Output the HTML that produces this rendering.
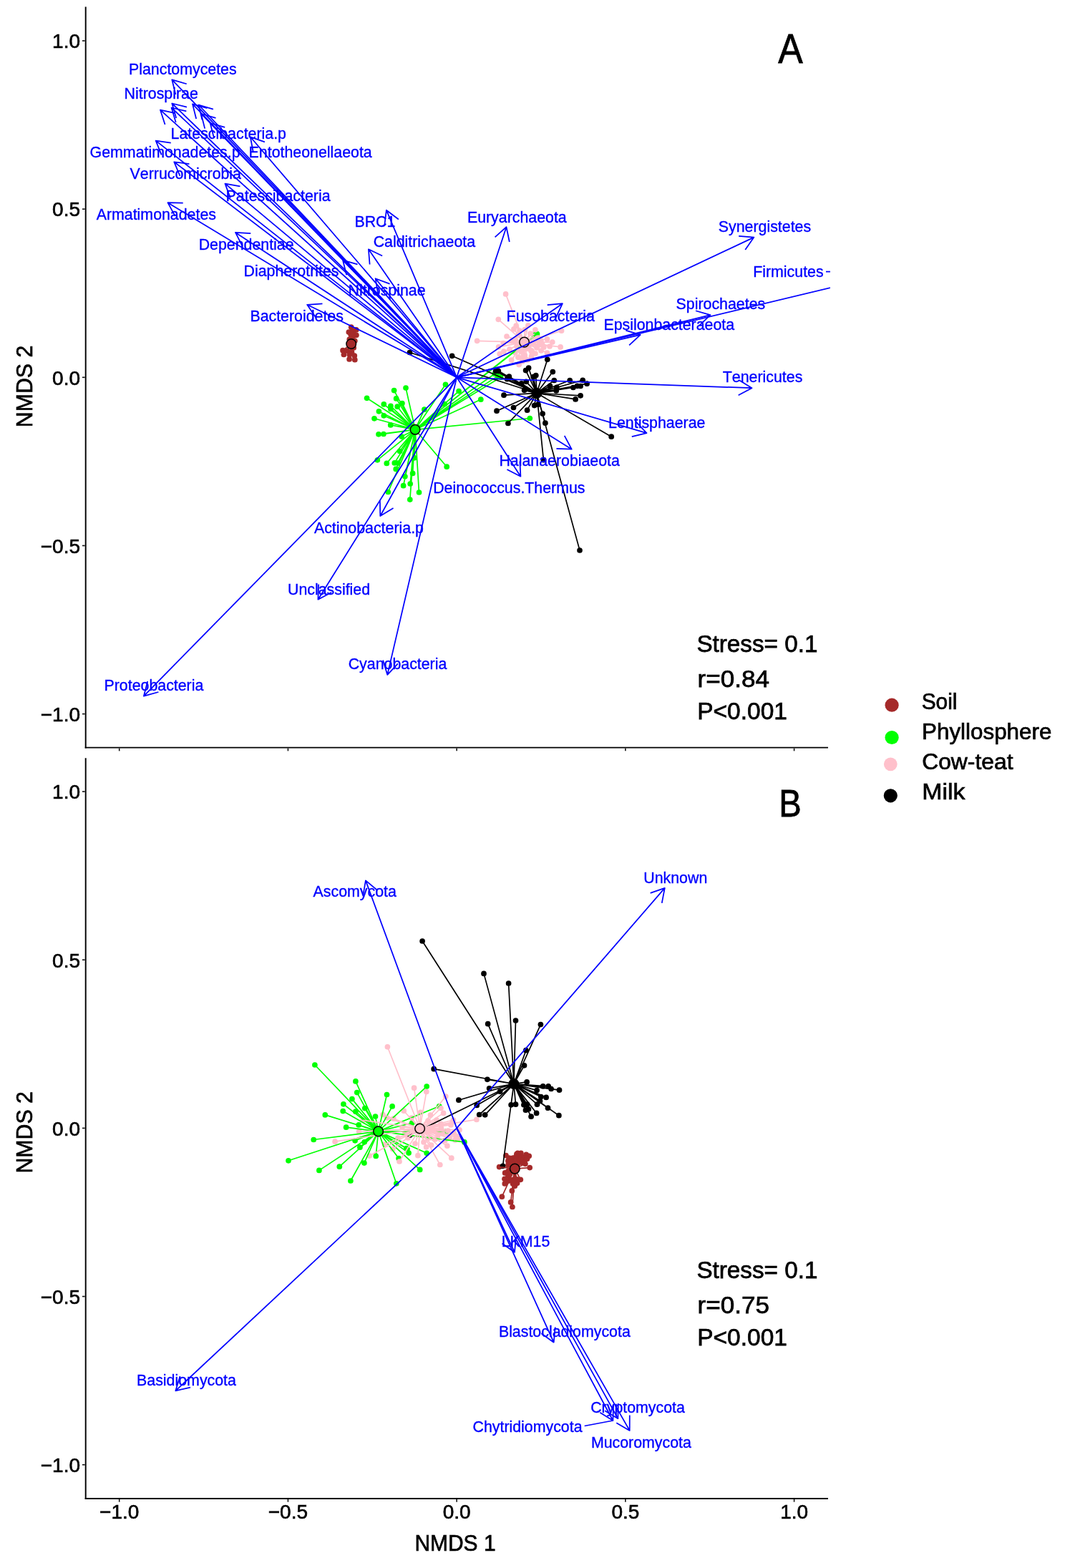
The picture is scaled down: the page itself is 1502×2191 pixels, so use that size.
<!DOCTYPE html>
<html lang="en"><head><meta charset="utf-8"><title>NMDS ordination</title>
<style>
html,body{margin:0;padding:0;background:#fff}
body{width:1502px;height:2191px;overflow:hidden}
svg{display:block}
text{font-family:"Liberation Sans",sans-serif;font-kerning:none}
</style></head><body>
<svg width="1502" height="2191" viewBox="0 0 1502 2191">
<defs>
<clipPath id="ca"><rect x="119.7" y="0" width="1040.3" height="1044.6"/></clipPath>
<clipPath id="cb"><rect x="119.7" y="1054.2" width="1040.3" height="1039.7"/></clipPath>
</defs>
<rect width="1502" height="2191" fill="#fff"/>
<g clip-path="url(#ca)">
<g fill="#a52a2a"><circle cx="490.7" cy="457.2" r="3.85"/><circle cx="497.7" cy="460.9" r="3.85"/><circle cx="487.3" cy="464.1" r="3.85"/><circle cx="493.7" cy="464.6" r="3.85"/><circle cx="497.9" cy="468.3" r="3.85"/><circle cx="491.5" cy="470.5" r="3.85"/><circle cx="488.3" cy="474.2" r="3.85"/><circle cx="495.8" cy="476.3" r="3.85"/><circle cx="494.2" cy="485.9" r="3.85"/><circle cx="479" cy="489.7" r="3.85"/><circle cx="485.2" cy="490.2" r="3.85"/><circle cx="480.4" cy="495.5" r="3.85"/><circle cx="488.3" cy="495.5" r="3.85"/><circle cx="495.3" cy="497.1" r="3.85"/><circle cx="488.1" cy="501.9" r="3.85"/><circle cx="495.8" cy="502.7" r="3.85"/><circle cx="491.5" cy="492" r="3.85"/><circle cx="492.5" cy="462.5" r="3.85"/><circle cx="490" cy="467" r="3.85"/></g>
<g fill="#00ff00"><circle cx="512.6" cy="556.3" r="3.85"/><circle cx="550.6" cy="545.6" r="3.85"/><circle cx="567" cy="542" r="3.85"/><circle cx="553.6" cy="556.9" r="3.85"/><circle cx="561.9" cy="563.5" r="3.85"/><circle cx="536.3" cy="564.9" r="3.85"/><circle cx="545.9" cy="567.3" r="3.85"/><circle cx="555.2" cy="568.2" r="3.85"/><circle cx="545.9" cy="571.5" r="3.85"/><circle cx="529.4" cy="574.8" r="3.85"/><circle cx="536.3" cy="580.8" r="3.85"/><circle cx="523" cy="584.8" r="3.85"/><circle cx="545.7" cy="593.9" r="3.85"/><circle cx="529" cy="606.8" r="3.85"/><circle cx="535.9" cy="606.5" r="3.85"/><circle cx="592.9" cy="572.2" r="3.85"/><circle cx="622.5" cy="537.3" r="3.85"/><circle cx="641.1" cy="546.6" r="3.85"/><circle cx="671.8" cy="558.2" r="3.85"/><circle cx="621.2" cy="564.6" r="3.85"/><circle cx="561.2" cy="610.1" r="3.85"/><circle cx="527.3" cy="642.8" r="3.85"/><circle cx="540.3" cy="647.4" r="3.85"/><circle cx="551.3" cy="646.9" r="3.85"/><circle cx="555.9" cy="647.1" r="3.85"/><circle cx="553.2" cy="655.4" r="3.85"/><circle cx="558.6" cy="630.5" r="3.85"/><circle cx="565.9" cy="665.8" r="3.85"/><circle cx="576.6" cy="661.4" r="3.85"/><circle cx="563.6" cy="678.7" r="3.85"/><circle cx="573.2" cy="676" r="3.85"/><circle cx="542.3" cy="687.5" r="3.85"/><circle cx="585.5" cy="688" r="3.85"/><circle cx="572.8" cy="698.1" r="3.85"/><circle cx="624.2" cy="652.2" r="3.85"/><circle cx="579.2" cy="639.8" r="3.85"/><circle cx="740.3" cy="584.5" r="3.85"/><circle cx="750.5" cy="466.6" r="3.85"/><circle cx="748.5" cy="467.2" r="3.85"/><circle cx="695.6" cy="525.4" r="3.85"/><circle cx="699.5" cy="527.2" r="3.85"/><circle cx="691" cy="522.5" r="3.85"/></g>
<g fill="#ffc0cb"><circle cx="706.6" cy="410.9" r="3.85"/><circle cx="696.3" cy="446.3" r="3.85"/><circle cx="666.6" cy="476.3" r="3.85"/><circle cx="721.2" cy="455.2" r="3.85"/><circle cx="717.9" cy="459.9" r="3.85"/><circle cx="737.9" cy="454.8" r="3.85"/><circle cx="747.9" cy="460.8" r="3.85"/><circle cx="733.2" cy="460.6" r="3.85"/><circle cx="784.5" cy="462.2" r="3.85"/><circle cx="764.5" cy="473.9" r="3.85"/><circle cx="771.8" cy="478.1" r="3.85"/><circle cx="783.1" cy="484.9" r="3.85"/><circle cx="759.8" cy="485.2" r="3.85"/><circle cx="764.5" cy="493.2" r="3.85"/><circle cx="696.6" cy="484.8" r="3.85"/><circle cx="698.2" cy="494.5" r="3.85"/><circle cx="714.6" cy="503.2" r="3.85"/><circle cx="725.2" cy="509.6" r="3.85"/><circle cx="723.9" cy="499.2" r="3.85"/><circle cx="733.2" cy="496.5" r="3.85"/><circle cx="742.5" cy="489.9" r="3.85"/><circle cx="742.5" cy="497.9" r="3.85"/><circle cx="714.6" cy="476.6" r="3.85"/><circle cx="703.9" cy="491.2" r="3.85"/><circle cx="753.2" cy="481.9" r="3.85"/><circle cx="727.9" cy="491.2" r="3.85"/><circle cx="719.9" cy="492.5" r="3.85"/><circle cx="703.2" cy="479.5" r="3.85"/><circle cx="731.1" cy="498.7" r="3.85"/><circle cx="735.1" cy="487.5" r="3.85"/><circle cx="743.1" cy="490.7" r="3.85"/><circle cx="752" cy="472" r="3.85"/><circle cx="756" cy="476" r="3.85"/><circle cx="750" cy="486" r="3.85"/><circle cx="746" cy="470" r="3.85"/><circle cx="741" cy="466" r="3.85"/><circle cx="724" cy="468" r="3.85"/><circle cx="720" cy="474" r="3.85"/><circle cx="722" cy="484" r="3.85"/><circle cx="712" cy="488" r="3.85"/><circle cx="708" cy="470" r="3.85"/><circle cx="739" cy="484" r="3.85"/><circle cx="745" cy="480" r="3.85"/><circle cx="758" cy="482" r="3.85"/><circle cx="768" cy="484" r="3.85"/><circle cx="726" cy="462" r="3.85"/><circle cx="730" cy="505" r="3.85"/><circle cx="737" cy="503" r="3.85"/><circle cx="748" cy="494" r="3.85"/><circle cx="756" cy="490" r="3.85"/></g>
<g fill="#000000"><circle cx="764.8" cy="502.3" r="3.85"/><circle cx="738.6" cy="514" r="3.85"/><circle cx="734.6" cy="517.6" r="3.85"/><circle cx="772.3" cy="519.6" r="3.85"/><circle cx="696.3" cy="518.3" r="3.85"/><circle cx="692.6" cy="518.6" r="3.85"/><circle cx="748.8" cy="524.6" r="3.85"/><circle cx="745.2" cy="526.6" r="3.85"/><circle cx="711.3" cy="526.2" r="3.85"/><circle cx="708.6" cy="529.7" r="3.85"/><circle cx="774.3" cy="531.5" r="3.85"/><circle cx="796.2" cy="531.5" r="3.85"/><circle cx="814.2" cy="531.3" r="3.85"/><circle cx="820.1" cy="536.2" r="3.85"/><circle cx="811.1" cy="539.5" r="3.85"/><circle cx="806.5" cy="539.3" r="3.85"/><circle cx="800.9" cy="541.5" r="3.85"/><circle cx="728.6" cy="535.9" r="3.85"/><circle cx="735.2" cy="533.3" r="3.85"/><circle cx="768.5" cy="539.3" r="3.85"/><circle cx="777.9" cy="541.3" r="3.85"/><circle cx="777.2" cy="545.9" r="3.85"/><circle cx="732.6" cy="545.3" r="3.85"/><circle cx="704" cy="552.2" r="3.85"/><circle cx="811.1" cy="552.8" r="3.85"/><circle cx="804.1" cy="557.9" r="3.85"/><circle cx="694" cy="574.2" r="3.85"/><circle cx="717.5" cy="569.5" r="3.85"/><circle cx="736.6" cy="573.2" r="3.85"/><circle cx="746.6" cy="566.6" r="3.85"/><circle cx="751.9" cy="565.2" r="3.85"/><circle cx="758.1" cy="578.1" r="3.85"/><circle cx="761.9" cy="591.2" r="3.85"/><circle cx="709.9" cy="591.5" r="3.85"/><circle cx="854.2" cy="610.2" r="3.85"/><circle cx="759.4" cy="642.7" r="3.85"/><circle cx="810" cy="769" r="3.85"/><circle cx="572.5" cy="492.5" r="3.85"/><circle cx="631.6" cy="497.3" r="3.85"/></g>
<g stroke="#a52a2a" stroke-width="1.7" fill="none"><path d="M490.7 480.5L490.7 457.2M490.7 480.5L497.7 460.9M490.7 480.5L487.3 464.1M490.7 480.5L493.7 464.6M490.7 480.5L497.9 468.3M490.7 480.5L491.5 470.5M490.7 480.5L488.3 474.2M490.7 480.5L495.8 476.3M490.7 480.5L494.2 485.9M490.7 480.5L479 489.7M490.7 480.5L485.2 490.2M490.7 480.5L480.4 495.5M490.7 480.5L488.3 495.5M490.7 480.5L495.3 497.1M490.7 480.5L488.1 501.9M490.7 480.5L495.8 502.7M490.7 480.5L491.5 492M490.7 480.5L492.5 462.5M490.7 480.5L490 467"/></g>
<g stroke="#00ff00" stroke-width="1.7" fill="none"><path d="M580.1 600.3L512.6 556.3M580.1 600.3L550.6 545.6M580.1 600.3L567 542M580.1 600.3L553.6 556.9M580.1 600.3L561.9 563.5M580.1 600.3L536.3 564.9M580.1 600.3L545.9 567.3M580.1 600.3L555.2 568.2M580.1 600.3L545.9 571.5M580.1 600.3L529.4 574.8M580.1 600.3L536.3 580.8M580.1 600.3L523 584.8M580.1 600.3L545.7 593.9M580.1 600.3L529 606.8M580.1 600.3L535.9 606.5M580.1 600.3L592.9 572.2M580.1 600.3L622.5 537.3M580.1 600.3L641.1 546.6M580.1 600.3L671.8 558.2M580.1 600.3L621.2 564.6M580.1 600.3L561.2 610.1M580.1 600.3L527.3 642.8M580.1 600.3L540.3 647.4M580.1 600.3L551.3 646.9M580.1 600.3L555.9 647.1M580.1 600.3L553.2 655.4M580.1 600.3L558.6 630.5M580.1 600.3L565.9 665.8M580.1 600.3L576.6 661.4M580.1 600.3L563.6 678.7M580.1 600.3L573.2 676M580.1 600.3L542.3 687.5M580.1 600.3L585.5 688M580.1 600.3L572.8 698.1M580.1 600.3L624.2 652.2M580.1 600.3L579.2 639.8M580.1 600.3L740.3 584.5M580.1 600.3L750.5 466.6M580.1 600.3L748.5 467.2M580.1 600.3L695.6 525.4M580.1 600.3L699.5 527.2M580.1 600.3L691 522.5"/></g>
<g stroke="#000000" stroke-width="1.7" fill="none"><path d="M749.9 549.3L764.8 502.3M749.9 549.3L738.6 514M749.9 549.3L734.6 517.6M749.9 549.3L772.3 519.6M749.9 549.3L696.3 518.3M749.9 549.3L692.6 518.6M749.9 549.3L748.8 524.6M749.9 549.3L745.2 526.6M749.9 549.3L711.3 526.2M749.9 549.3L708.6 529.7M749.9 549.3L774.3 531.5M749.9 549.3L796.2 531.5M749.9 549.3L814.2 531.3M749.9 549.3L820.1 536.2M749.9 549.3L811.1 539.5M749.9 549.3L806.5 539.3M749.9 549.3L800.9 541.5M749.9 549.3L728.6 535.9M749.9 549.3L735.2 533.3M749.9 549.3L768.5 539.3M749.9 549.3L777.9 541.3M749.9 549.3L777.2 545.9M749.9 549.3L732.6 545.3M749.9 549.3L704 552.2M749.9 549.3L811.1 552.8M749.9 549.3L804.1 557.9M749.9 549.3L694 574.2M749.9 549.3L717.5 569.5M749.9 549.3L736.6 573.2M749.9 549.3L746.6 566.6M749.9 549.3L751.9 565.2M749.9 549.3L758.1 578.1M749.9 549.3L761.9 591.2M749.9 549.3L709.9 591.5M749.9 549.3L854.2 610.2M749.9 549.3L759.4 642.7M749.9 549.3L810 769M749.9 549.3L572.5 492.5M749.9 549.3L631.6 497.3"/></g>
<g stroke="#ffc0cb" stroke-width="1.7" fill="none"><path d="M732.5 478.1L706.6 410.9M732.5 478.1L696.3 446.3M732.5 478.1L666.6 476.3M732.5 478.1L721.2 455.2M732.5 478.1L717.9 459.9M732.5 478.1L737.9 454.8M732.5 478.1L747.9 460.8M732.5 478.1L733.2 460.6M732.5 478.1L784.5 462.2M732.5 478.1L764.5 473.9M732.5 478.1L771.8 478.1M732.5 478.1L783.1 484.9M732.5 478.1L759.8 485.2M732.5 478.1L764.5 493.2M732.5 478.1L696.6 484.8M732.5 478.1L698.2 494.5M732.5 478.1L714.6 503.2M732.5 478.1L725.2 509.6M732.5 478.1L723.9 499.2M732.5 478.1L733.2 496.5M732.5 478.1L742.5 489.9M732.5 478.1L742.5 497.9M732.5 478.1L714.6 476.6M732.5 478.1L703.9 491.2M732.5 478.1L753.2 481.9M732.5 478.1L727.9 491.2M732.5 478.1L719.9 492.5M732.5 478.1L703.2 479.5M732.5 478.1L731.1 498.7M732.5 478.1L735.1 487.5M732.5 478.1L743.1 490.7M732.5 478.1L752 472M732.5 478.1L756 476M732.5 478.1L750 486M732.5 478.1L746 470M732.5 478.1L741 466M732.5 478.1L724 468M732.5 478.1L720 474M732.5 478.1L722 484M732.5 478.1L712 488M732.5 478.1L708 470M732.5 478.1L739 484M732.5 478.1L745 480M732.5 478.1L758 482M732.5 478.1L768 484M732.5 478.1L726 462M732.5 478.1L730 505M732.5 478.1L737 503M732.5 478.1L748 494M732.5 478.1L756 490"/></g>
<circle cx="490.7" cy="480.5" r="6.8" fill="#a52a2a" stroke="#000" stroke-width="1.5"/>
<circle cx="580.1" cy="600.3" r="6.8" fill="#00ff00" stroke="#000" stroke-width="1.5"/>
<circle cx="749.9" cy="549.3" r="6.8" fill="#000000" stroke="#000" stroke-width="1.5"/>
<circle cx="732.5" cy="478.1" r="6.8" fill="#ffc0cb" stroke="#000" stroke-width="1.5"/>
<g stroke="#0000ff" stroke-width="1.75" fill="none" stroke-linejoin="round" stroke-linecap="butt">
<path d="M638.15 527.3L240.3 111.3M245.35 131.99L240.3 111.3L260.75 117.27"/>
<path d="M638.15 527.3L240.3 144.5M246.21 164.96L240.3 144.5L260.98 149.62"/>
<path d="M638.15 527.3L239.6 150.5M245.69 170.91L239.6 150.5L260.32 155.43"/>
<path d="M638.15 527.3L224 153.7M230.56 173.96L224 153.7L244.83 158.15"/>
<path d="M638.15 527.3L269 145.4M274.16 166.06L269 145.4L289.48 151.26"/>
<path d="M638.15 527.3L277.5 146.5M282.45 167.22L277.5 146.5L297.92 152.57"/>
<path d="M638.15 527.3L281 159M286.2 179.66L281 159L301.49 164.83"/>
<path d="M638.15 527.3L293.7 172M298.89 192.66L293.7 172L314.19 177.83"/>
<path d="M638.15 527.3L349.8 191.3M353.73 212.23L349.8 191.3L369.9 198.36"/>
<path d="M638.15 527.3L217.7 196.6M225.61 216.37L217.7 196.6L238.78 199.63"/>
<path d="M638.15 527.3L243.3 226.3M251.51 245.95L243.3 226.3L264.43 229.01"/>
<path d="M638.15 527.3L314.5 256.6M321.82 276.6L314.5 256.6L335.48 260.27"/>
<path d="M638.15 527.3L234.4 283.2M244.68 301.86L234.4 283.2L255.7 283.63"/>
<path d="M638.15 527.3L329 324.9M338.6 343.91L329 324.9L350.27 326.09"/>
<path d="M638.15 527.3L479 363.6M484.22 384.25L479 363.6L499.49 369.4"/>
<path d="M638.15 527.3L429.2 425.8M441.14 443.44L429.2 425.8L450.45 424.28"/>
<path d="M638.15 527.3L539.9 293.7M537.23 314.83L539.9 293.7L556.87 306.57"/>
<path d="M638.15 527.3L514.9 348.3M516.59 369.53L514.9 348.3L534.13 357.45"/>
<path d="M638.15 527.3L524.6 389.2M528.09 410.21L524.6 389.2L544.54 396.68"/>
<path d="M638.15 527.3L707.5 317.2M691.6 331.38L707.5 317.2L711.83 338.05"/>
<path d="M638.15 527.3L1053.4 331.6M1032.17 329.83L1053.4 331.6L1041.25 349.1"/>
<path d="M638.15 527.3L1240 382.9M1219.58 376.85L1240 382.9L1224.55 397.56"/>
<path d="M638.15 527.3L992.5 440.2M972.04 434.26L992.5 440.2L977.13 454.95"/>
<path d="M638.15 527.3L894.7 467.9M874.33 461.69L894.7 467.9L879.13 482.44"/>
<path d="M638.15 527.3L785.9 424.2M764.68 426.02L785.9 424.2L776.87 443.49"/>
<path d="M638.15 527.3L1050.5 542.2M1032.45 530.89L1050.5 542.2L1031.68 552.18"/>
<path d="M638.15 527.3L903.5 605.1M888.8 589.69L903.5 605.1L882.8 610.13"/>
<path d="M638.15 527.3L798.7 627.7M788.71 608.89L798.7 627.7L777.41 626.95"/>
<path d="M638.15 527.3L727.4 665.7M726.35 644.43L727.4 665.7L708.45 655.97"/>
<path d="M638.15 527.3L531.3 721M549.54 709.99L531.3 721L530.88 699.7"/>
<path d="M638.15 527.3L444.4 837.7M463.2 827.69L444.4 837.7L445.13 816.41"/>
<path d="M638.15 527.3L541.3 942.9M555.86 927.35L541.3 942.9L535.11 922.52"/>
<path d="M638.15 527.3L200.9 972.7M221.42 967L200.9 972.7L206.22 952.08"/>
<path d="M1154 379.6L1160 379.6"/>
</g>
<g fill="#0000ff" stroke="#0000ff" stroke-width="0.35" font-size="21.35px" class="lb">
<text x="180" y="104.4">Planctomycetes</text>
<text x="173.6" y="137.9">Nitrospirae</text>
<text x="238.6" y="193.9">Latescibacteria.p</text>
<text x="125.6" y="219.9">Gemmatimonadetes.p</text>
<text x="347.6" y="219.9">Entotheonellaeota</text>
<text x="181.6" y="249.9">Verrucomicrobia</text>
<text x="315.6" y="280.9">Patescibacteria</text>
<text x="134.7" y="306.7">Armatimonadetes</text>
<text x="277.7" y="348.6">Dependentiae</text>
<text x="340.6" y="385.7">Diapherotrites</text>
<text x="349.4" y="449">Bacteroidetes</text>
<text x="495.4" y="317">BRC1</text>
<text x="521.7" y="344.5">Calditrichaeota</text>
<text x="486.6" y="412.5">Nitrospinae</text>
<text x="652.9" y="310.7">Euryarchaeota</text>
<text x="1003.8" y="323.7">Synergistetes</text>
<text x="1052.2" y="386.9">Firmicutes</text>
<text x="944.6" y="432.4">Spirochaetes</text>
<text x="843.4" y="461">Epsilonbacteraeota</text>
<text x="707.6" y="448.5">Fusobacteria</text>
<text x="1009.8" y="534.3">Tenericutes</text>
<text x="850.1" y="597.8">Lentisphaerae</text>
<text x="697.4" y="651">Halanaerobiaeota</text>
<text x="605.2" y="688.6">Deinococcus.Thermus</text>
<text x="438.9" y="745.2">Actinobacteria.p</text>
<text x="402" y="831">Unclassified</text>
<text x="486.7" y="935.4">Cyanobacteria</text>
<text x="145.5" y="965.2">Proteobacteria</text>
</g>
</g>
<g clip-path="url(#cb)">
<g fill="#a52a2a"><circle cx="707" cy="1614.6" r="3.85"/><circle cx="723.3" cy="1611.3" r="3.85"/><circle cx="727.9" cy="1611.3" r="3.85"/><circle cx="735.2" cy="1613.3" r="3.85"/><circle cx="739.2" cy="1615.3" r="3.85"/><circle cx="716.6" cy="1618" r="3.85"/><circle cx="729.9" cy="1618" r="3.85"/><circle cx="733.9" cy="1626.3" r="3.85"/><circle cx="740.2" cy="1631.6" r="3.85"/><circle cx="709.9" cy="1627.9" r="3.85"/><circle cx="697.6" cy="1630.6" r="3.85"/><circle cx="705.6" cy="1638.9" r="3.85"/><circle cx="705" cy="1647.3" r="3.85"/><circle cx="705.3" cy="1653.9" r="3.85"/><circle cx="727.3" cy="1648.3" r="3.85"/><circle cx="722.6" cy="1653.2" r="3.85"/><circle cx="716.6" cy="1653.9" r="3.85"/><circle cx="719.3" cy="1657.2" r="3.85"/><circle cx="715.3" cy="1663.9" r="3.85"/><circle cx="701.3" cy="1672.2" r="3.85"/><circle cx="713.6" cy="1679.9" r="3.85"/><circle cx="715.9" cy="1686.5" r="3.85"/><circle cx="711.3" cy="1618" r="3.85"/><circle cx="713.9" cy="1619.3" r="3.85"/><circle cx="720.6" cy="1616.6" r="3.85"/><circle cx="725.9" cy="1616.6" r="3.85"/><circle cx="731.9" cy="1616.6" r="3.85"/><circle cx="728.6" cy="1621.3" r="3.85"/><circle cx="724.6" cy="1621.3" r="3.85"/><circle cx="733.2" cy="1621.3" r="3.85"/><circle cx="716.6" cy="1623.3" r="3.85"/><circle cx="729.9" cy="1624.6" r="3.85"/><circle cx="709.9" cy="1622" r="3.85"/><circle cx="712.6" cy="1626" r="3.85"/><circle cx="736.6" cy="1619.3" r="3.85"/><circle cx="721.9" cy="1612.6" r="3.85"/><circle cx="709.9" cy="1643.3" r="3.85"/><circle cx="711.3" cy="1649.9" r="3.85"/><circle cx="716.6" cy="1648.6" r="3.85"/><circle cx="721.9" cy="1647.9" r="3.85"/><circle cx="720.6" cy="1653.9" r="3.85"/><circle cx="709.9" cy="1636.6" r="3.85"/></g>
<g fill="#00ff00"><circle cx="439.9" cy="1488" r="3.85"/><circle cx="496.9" cy="1510.9" r="3.85"/><circle cx="498.8" cy="1526.6" r="3.85"/><circle cx="491.9" cy="1535.6" r="3.85"/><circle cx="479.9" cy="1542.8" r="3.85"/><circle cx="540.5" cy="1529.5" r="3.85"/><circle cx="548.1" cy="1545.9" r="3.85"/><circle cx="509.8" cy="1548.6" r="3.85"/><circle cx="479.2" cy="1552.6" r="3.85"/><circle cx="496.9" cy="1553.2" r="3.85"/><circle cx="454.3" cy="1557.9" r="3.85"/><circle cx="524.5" cy="1560.1" r="3.85"/><circle cx="501.2" cy="1571.9" r="3.85"/><circle cx="483.6" cy="1575.2" r="3.85"/><circle cx="438.2" cy="1592.5" r="3.85"/><circle cx="496.1" cy="1593.8" r="3.85"/><circle cx="509.2" cy="1595.8" r="3.85"/><circle cx="502.9" cy="1603.2" r="3.85"/><circle cx="403" cy="1621.8" r="3.85"/><circle cx="525.2" cy="1615.4" r="3.85"/><circle cx="508.9" cy="1625.1" r="3.85"/><circle cx="474.3" cy="1630.2" r="3.85"/><circle cx="445.9" cy="1635.4" r="3.85"/><circle cx="489.9" cy="1650" r="3.85"/><circle cx="553.8" cy="1653.8" r="3.85"/><circle cx="557.1" cy="1618.5" r="3.85"/><circle cx="571.1" cy="1611.1" r="3.85"/><circle cx="567.8" cy="1604.5" r="3.85"/><circle cx="586.7" cy="1634.4" r="3.85"/><circle cx="575.7" cy="1569.2" r="3.85"/><circle cx="596.2" cy="1518.1" r="3.85"/><circle cx="613.7" cy="1545.8" r="3.85"/><circle cx="623.3" cy="1581.2" r="3.85"/><circle cx="648.9" cy="1595.9" r="3.85"/><circle cx="596.2" cy="1611.3" r="3.85"/><circle cx="569" cy="1605.5" r="3.85"/></g>
<g fill="#ffc0cb"><circle cx="578.6" cy="1520.2" r="3.85"/><circle cx="595.8" cy="1525.6" r="3.85"/><circle cx="622.8" cy="1532" r="3.85"/><circle cx="615.9" cy="1548.5" r="3.85"/><circle cx="619.6" cy="1555.4" r="3.85"/><circle cx="564.2" cy="1552.2" r="3.85"/><circle cx="534.9" cy="1557.5" r="3.85"/><circle cx="587.6" cy="1554.3" r="3.85"/><circle cx="601.5" cy="1558.1" r="3.85"/><circle cx="665.9" cy="1564.4" r="3.85"/><circle cx="633.4" cy="1565" r="3.85"/><circle cx="615.9" cy="1570.3" r="3.85"/><circle cx="616.4" cy="1576.2" r="3.85"/><circle cx="642" cy="1578.8" r="3.85"/><circle cx="637.2" cy="1587.3" r="3.85"/><circle cx="640.4" cy="1590.5" r="3.85"/><circle cx="621.7" cy="1593.7" r="3.85"/><circle cx="624.9" cy="1601.2" r="3.85"/><circle cx="602.6" cy="1600.1" r="3.85"/><circle cx="595.6" cy="1602.8" r="3.85"/><circle cx="630.8" cy="1618.2" r="3.85"/><circle cx="614.8" cy="1627.5" r="3.85"/><circle cx="583.9" cy="1614.7" r="3.85"/><circle cx="558" cy="1623" r="3.85"/><circle cx="548.8" cy="1605.5" r="3.85"/><circle cx="537.6" cy="1599.1" r="3.85"/><circle cx="541.4" cy="1462.8" r="3.85"/><circle cx="516.2" cy="1615.1" r="3.85"/><circle cx="468.1" cy="1595.2" r="3.85"/><circle cx="501.6" cy="1581.2" r="3.85"/><circle cx="540.5" cy="1561.9" r="3.85"/><circle cx="549.8" cy="1563.2" r="3.85"/><circle cx="507.3" cy="1565.3" r="3.85"/><circle cx="630" cy="1572" r="3.85"/><circle cx="634" cy="1583" r="3.85"/><circle cx="628" cy="1590" r="3.85"/><circle cx="636" cy="1593" r="3.85"/><circle cx="632" cy="1568" r="3.85"/><circle cx="610" cy="1565" r="3.85"/><circle cx="612" cy="1586" r="3.85"/><circle cx="626" cy="1580" r="3.85"/><circle cx="606" cy="1572" r="3.85"/><circle cx="608" cy="1592" r="3.85"/><circle cx="618" cy="1584" r="3.85"/><circle cx="600" cy="1590" r="3.85"/><circle cx="598" cy="1566" r="3.85"/><circle cx="592" cy="1596" r="3.85"/><circle cx="580" cy="1598" r="3.85"/><circle cx="570" cy="1590" r="3.85"/><circle cx="562" cy="1575" r="3.85"/><circle cx="566" cy="1583" r="3.85"/><circle cx="556" cy="1590" r="3.85"/><circle cx="575" cy="1562" r="3.85"/></g>
<g fill="#000000"><circle cx="681.7" cy="1430.7" r="3.85"/><circle cx="720.5" cy="1426" r="3.85"/><circle cx="755.4" cy="1431.6" r="3.85"/><circle cx="734.9" cy="1467.7" r="3.85"/><circle cx="732.5" cy="1488.8" r="3.85"/><circle cx="680.9" cy="1508.3" r="3.85"/><circle cx="736.1" cy="1511.9" r="3.85"/><circle cx="758.7" cy="1517.9" r="3.85"/><circle cx="766.2" cy="1517.9" r="3.85"/><circle cx="770.1" cy="1521.5" r="3.85"/><circle cx="781.5" cy="1523.2" r="3.85"/><circle cx="750.1" cy="1523.6" r="3.85"/><circle cx="683.6" cy="1520.8" r="3.85"/><circle cx="698.6" cy="1525.2" r="3.85"/><circle cx="755.8" cy="1532.5" r="3.85"/><circle cx="763.1" cy="1533.4" r="3.85"/><circle cx="754.5" cy="1538.5" r="3.85"/><circle cx="750.5" cy="1543.2" r="3.85"/><circle cx="640.9" cy="1537.2" r="3.85"/><circle cx="666.2" cy="1544.5" r="3.85"/><circle cx="714.1" cy="1543.8" r="3.85"/><circle cx="720.5" cy="1543.2" r="3.85"/><circle cx="731.9" cy="1543.8" r="3.85"/><circle cx="736.5" cy="1543.2" r="3.85"/><circle cx="734.5" cy="1551.2" r="3.85"/><circle cx="738.5" cy="1549.8" r="3.85"/><circle cx="765.5" cy="1548.2" r="3.85"/><circle cx="749.6" cy="1555.4" r="3.85"/><circle cx="742.1" cy="1560.2" r="3.85"/><circle cx="780.9" cy="1558.7" r="3.85"/><circle cx="669.7" cy="1557.5" r="3.85"/><circle cx="677.7" cy="1557.8" r="3.85"/><circle cx="590.1" cy="1315" r="3.85"/><circle cx="676" cy="1360.4" r="3.85"/><circle cx="710.6" cy="1374" r="3.85"/><circle cx="606.2" cy="1493.7" r="3.85"/><circle cx="702.5" cy="1629.3" r="3.85"/><circle cx="573" cy="1586" r="3.85"/></g>
<g stroke="#a52a2a" stroke-width="1.7" fill="none"><path d="M719.3 1633.1L707 1614.6M719.3 1633.1L723.3 1611.3M719.3 1633.1L727.9 1611.3M719.3 1633.1L735.2 1613.3M719.3 1633.1L739.2 1615.3M719.3 1633.1L716.6 1618M719.3 1633.1L729.9 1618M719.3 1633.1L733.9 1626.3M719.3 1633.1L740.2 1631.6M719.3 1633.1L709.9 1627.9M719.3 1633.1L697.6 1630.6M719.3 1633.1L705.6 1638.9M719.3 1633.1L705 1647.3M719.3 1633.1L705.3 1653.9M719.3 1633.1L727.3 1648.3M719.3 1633.1L722.6 1653.2M719.3 1633.1L716.6 1653.9M719.3 1633.1L719.3 1657.2M719.3 1633.1L715.3 1663.9M719.3 1633.1L701.3 1672.2M719.3 1633.1L713.6 1679.9M719.3 1633.1L715.9 1686.5M719.3 1633.1L711.3 1618M719.3 1633.1L713.9 1619.3M719.3 1633.1L720.6 1616.6M719.3 1633.1L725.9 1616.6M719.3 1633.1L731.9 1616.6M719.3 1633.1L728.6 1621.3M719.3 1633.1L724.6 1621.3M719.3 1633.1L733.2 1621.3M719.3 1633.1L716.6 1623.3M719.3 1633.1L729.9 1624.6M719.3 1633.1L709.9 1622M719.3 1633.1L712.6 1626M719.3 1633.1L736.6 1619.3M719.3 1633.1L721.9 1612.6M719.3 1633.1L709.9 1643.3M719.3 1633.1L711.3 1649.9M719.3 1633.1L716.6 1648.6M719.3 1633.1L721.9 1647.9M719.3 1633.1L720.6 1653.9M719.3 1633.1L709.9 1636.6"/></g>
<g stroke="#00ff00" stroke-width="1.7" fill="none"><path d="M528.6 1580.9L439.9 1488M528.6 1580.9L496.9 1510.9M528.6 1580.9L498.8 1526.6M528.6 1580.9L491.9 1535.6M528.6 1580.9L479.9 1542.8M528.6 1580.9L540.5 1529.5M528.6 1580.9L548.1 1545.9M528.6 1580.9L509.8 1548.6M528.6 1580.9L479.2 1552.6M528.6 1580.9L496.9 1553.2M528.6 1580.9L454.3 1557.9M528.6 1580.9L524.5 1560.1M528.6 1580.9L501.2 1571.9M528.6 1580.9L483.6 1575.2M528.6 1580.9L438.2 1592.5M528.6 1580.9L496.1 1593.8M528.6 1580.9L509.2 1595.8M528.6 1580.9L502.9 1603.2M528.6 1580.9L403 1621.8M528.6 1580.9L525.2 1615.4M528.6 1580.9L508.9 1625.1M528.6 1580.9L474.3 1630.2M528.6 1580.9L445.9 1635.4M528.6 1580.9L489.9 1650M528.6 1580.9L553.8 1653.8M528.6 1580.9L557.1 1618.5M528.6 1580.9L571.1 1611.1M528.6 1580.9L567.8 1604.5M528.6 1580.9L586.7 1634.4M528.6 1580.9L575.7 1569.2M528.6 1580.9L596.2 1518.1M528.6 1580.9L613.7 1545.8M528.6 1580.9L623.3 1581.2M528.6 1580.9L648.9 1595.9M528.6 1580.9L596.2 1611.3M528.6 1580.9L569 1605.5"/></g>
<g stroke="#000000" stroke-width="1.7" fill="none"><path d="M717.9 1514.5L681.7 1430.7M717.9 1514.5L720.5 1426M717.9 1514.5L755.4 1431.6M717.9 1514.5L734.9 1467.7M717.9 1514.5L732.5 1488.8M717.9 1514.5L680.9 1508.3M717.9 1514.5L736.1 1511.9M717.9 1514.5L758.7 1517.9M717.9 1514.5L766.2 1517.9M717.9 1514.5L770.1 1521.5M717.9 1514.5L781.5 1523.2M717.9 1514.5L750.1 1523.6M717.9 1514.5L683.6 1520.8M717.9 1514.5L698.6 1525.2M717.9 1514.5L755.8 1532.5M717.9 1514.5L763.1 1533.4M717.9 1514.5L754.5 1538.5M717.9 1514.5L750.5 1543.2M717.9 1514.5L640.9 1537.2M717.9 1514.5L666.2 1544.5M717.9 1514.5L714.1 1543.8M717.9 1514.5L720.5 1543.2M717.9 1514.5L731.9 1543.8M717.9 1514.5L736.5 1543.2M717.9 1514.5L734.5 1551.2M717.9 1514.5L738.5 1549.8M717.9 1514.5L765.5 1548.2M717.9 1514.5L749.6 1555.4M717.9 1514.5L742.1 1560.2M717.9 1514.5L780.9 1558.7M717.9 1514.5L669.7 1557.5M717.9 1514.5L677.7 1557.8M717.9 1514.5L590.1 1315M717.9 1514.5L676 1360.4M717.9 1514.5L710.6 1374M717.9 1514.5L606.2 1493.7M717.9 1514.5L702.5 1629.3M717.9 1514.5L573 1586"/></g>
<g stroke="#ffc0cb" stroke-width="1.7" fill="none"><path d="M586.6 1577L578.6 1520.2M586.6 1577L595.8 1525.6M586.6 1577L622.8 1532M586.6 1577L615.9 1548.5M586.6 1577L619.6 1555.4M586.6 1577L564.2 1552.2M586.6 1577L534.9 1557.5M586.6 1577L587.6 1554.3M586.6 1577L601.5 1558.1M586.6 1577L665.9 1564.4M586.6 1577L633.4 1565M586.6 1577L615.9 1570.3M586.6 1577L616.4 1576.2M586.6 1577L642 1578.8M586.6 1577L637.2 1587.3M586.6 1577L640.4 1590.5M586.6 1577L621.7 1593.7M586.6 1577L624.9 1601.2M586.6 1577L602.6 1600.1M586.6 1577L595.6 1602.8M586.6 1577L630.8 1618.2M586.6 1577L614.8 1627.5M586.6 1577L583.9 1614.7M586.6 1577L558 1623M586.6 1577L548.8 1605.5M586.6 1577L537.6 1599.1M586.6 1577L541.4 1462.8M586.6 1577L516.2 1615.1M586.6 1577L468.1 1595.2M586.6 1577L501.6 1581.2M586.6 1577L540.5 1561.9M586.6 1577L549.8 1563.2M586.6 1577L507.3 1565.3M586.6 1577L630 1572M586.6 1577L634 1583M586.6 1577L628 1590M586.6 1577L636 1593M586.6 1577L632 1568M586.6 1577L610 1565M586.6 1577L612 1586M586.6 1577L626 1580M586.6 1577L606 1572M586.6 1577L608 1592M586.6 1577L618 1584M586.6 1577L600 1590M586.6 1577L598 1566M586.6 1577L592 1596M586.6 1577L580 1598M586.6 1577L570 1590M586.6 1577L562 1575M586.6 1577L566 1583M586.6 1577L556 1590M586.6 1577L575 1562"/></g>
<circle cx="719.3" cy="1633.1" r="6.8" fill="#a52a2a" stroke="#000" stroke-width="1.5"/>
<circle cx="528.6" cy="1580.9" r="6.8" fill="#00ff00" stroke="#000" stroke-width="1.5"/>
<circle cx="717.9" cy="1514.5" r="6.8" fill="#000000" stroke="#000" stroke-width="1.5"/>
<circle cx="586.6" cy="1577" r="6.8" fill="#ffc0cb" stroke="#000" stroke-width="1.5"/>
<g stroke="#0000ff" stroke-width="1.75" fill="none" stroke-linejoin="round" stroke-linecap="butt">
<path d="M638.15 1576.4L510.9 1230.4M507.27 1251.39L510.9 1230.4L527.26 1244.04"/>
<path d="M638.15 1576.4L928.8 1240.9M908.67 1247.87L928.8 1240.9L924.77 1261.82"/>
<path d="M638.15 1576.4L245.3 1943.4M266.05 1938.59L245.3 1943.4L251.51 1923.03"/>
<path d="M638.15 1576.4L719 1749.8M720.86 1728.58L719 1749.8L701.55 1737.58"/>
<path d="M638.15 1576.4L773.7 1875.7M775.79 1854.5L773.7 1875.7L756.39 1863.29"/>
<path d="M638.15 1576.4L856.4 1985M857.1 1963.71L856.4 1985L838.32 1973.75"/>
<path d="M638.15 1576.4L863.4 1982.2M863.76 1960.9L863.4 1982.2L845.14 1971.24"/>
<path d="M638.15 1576.4L879.7 1998.9M879.79 1977.6L879.7 1998.9L861.3 1988.17"/>
<path d="M816.7 1992.5L856.4 1985"/>
</g>
<g fill="#0000ff" stroke="#0000ff" stroke-width="0.35" font-size="21.35px" class="lb">
<text x="437.6" y="1253.3">Ascomycota</text>
<text x="899.3" y="1233.7">Unknown</text>
<text x="191.1" y="1935.6">Basidiomycota</text>
<text x="700.7" y="1741.8">LKM15</text>
<text x="696.9" y="1867.8">Blastocladiomycota</text>
<text x="825.2" y="1974.2">Cryptomycota</text>
<text x="660.5" y="2000.7">Chytridiomycota</text>
<text x="825.9" y="2023.3">Mucoromycota</text>
</g>
</g>
<g stroke="#000" stroke-width="1.95" fill="none" stroke-linecap="butt">
<path d="M119.7 9.4V1045.5749999999998"/>
<path d="M118.72500000000001 1044.6H1157.0"/>
<path d="M119.7 1059.2V2094.875"/>
<path d="M118.72500000000001 2093.9H1157.0"/>
</g>
<g stroke="#111" stroke-width="1.6" fill="none">
<path d="M114.93 57H118.73"/>
<path d="M114.93 292.15H118.73"/>
<path d="M114.93 527.3H118.73"/>
<path d="M114.93 762.45H118.73"/>
<path d="M114.93 997.6H118.73"/>
<path d="M114.93 1106.1H118.73"/>
<path d="M114.93 1341.25H118.73"/>
<path d="M114.93 1576.4H118.73"/>
<path d="M114.93 1811.55H118.73"/>
<path d="M114.93 2046.7H118.73"/>
<path d="M166.7 1045.57V1049.37"/>
<path d="M402.42 1045.57V1049.37"/>
<path d="M638.15 1045.57V1049.37"/>
<path d="M873.88 1045.57V1049.37"/>
<path d="M1109.6 1045.57V1049.37"/>
<path d="M166.7 2094.88V2098.68"/>
<path d="M402.42 2094.88V2098.68"/>
<path d="M638.15 2094.88V2098.68"/>
<path d="M873.88 2094.88V2098.68"/>
<path d="M1109.6 2094.88V2098.68"/>
</g>
<g fill="#000" stroke="#000" stroke-width="0.65" font-size="28px" text-anchor="end">
<text x="112.0" y="67.25">1.0</text>
<text x="112.0" y="302.4">0.5</text>
<text x="112.0" y="537.55">0.0</text>
<text x="112.0" y="772.7">−0.5</text>
<text x="112.0" y="1007.85">−1.0</text>
<text x="112.0" y="1116.35">1.0</text>
<text x="112.0" y="1351.5">0.5</text>
<text x="112.0" y="1586.65">0.0</text>
<text x="112.0" y="1821.8">−0.5</text>
<text x="112.0" y="2056.95">−1.0</text>
</g>
<g fill="#000" stroke="#000" stroke-width="0.65" font-size="28px" text-anchor="middle">
<text x="166.7" y="2121.8">−1.0</text>
<text x="402.42" y="2121.8">−0.5</text>
<text x="638.15" y="2121.8">0.0</text>
<text x="873.88" y="2121.8">0.5</text>
<text x="1109.6" y="2121.8">1.0</text>
</g>
<g fill="#000" stroke="#000" stroke-width="0.8" font-size="57.3px">
<text x="1087.3" y="88.3" textLength="34.5" lengthAdjust="spacingAndGlyphs">A</text>
<text x="1088.2" y="1141.0" font-size="54.3px" textLength="31.5" lengthAdjust="spacingAndGlyphs">B</text>
</g>
<g fill="#000" stroke="#000" stroke-width="0.75" font-size="34px">
<text x="973.4" y="911.3" textLength="169" lengthAdjust="spacingAndGlyphs">Stress= 0.1</text>
<text x="974.5" y="959.9" textLength="100.5" lengthAdjust="spacingAndGlyphs">r=0.84</text>
<text x="974.2" y="1005.2" textLength="125.8" lengthAdjust="spacingAndGlyphs">P&lt;0.001</text>
<text x="973.4" y="1786.3" textLength="169" lengthAdjust="spacingAndGlyphs">Stress= 0.1</text>
<text x="974.5" y="1834.9" textLength="100.5" lengthAdjust="spacingAndGlyphs">r=0.75</text>
<text x="974.2" y="1880.2" textLength="125.8" lengthAdjust="spacingAndGlyphs">P&lt;0.001</text>
</g>
<circle cx="1246.1" cy="985.2" r="9.6" fill="#a52a2a"/>
<circle cx="1246.1" cy="1030.5" r="9.6" fill="#00ff00"/>
<circle cx="1244.3" cy="1067.8" r="9.4" fill="#ffc0cb"/>
<circle cx="1244.3" cy="1111.8" r="9.6" fill="#000"/>
<g fill="#000" stroke="#000" stroke-width="0.7" font-size="30.7px">
<text x="1287.7" y="991.3" textLength="49.8" lengthAdjust="spacingAndGlyphs">Soil</text>
<text x="1288" y="1032.5" textLength="181.4" lengthAdjust="spacingAndGlyphs">Phyllosphere</text>
<text x="1288.2" y="1074.8" textLength="127.3" lengthAdjust="spacingAndGlyphs">Cow-teat</text>
<text x="1288.2" y="1116.8" textLength="60.2" lengthAdjust="spacingAndGlyphs">Milk</text>
</g>
<g fill="#000" stroke="#000" stroke-width="0.7" font-size="31px">
<text x="579.4" y="2166.5" textLength="113.2" lengthAdjust="spacingAndGlyphs">NMDS 1</text>
<text transform="translate(44.7 597.2) rotate(-90)" textLength="114.5" lengthAdjust="spacingAndGlyphs">NMDS 2</text>
<text transform="translate(44.7 1639.6) rotate(-90)" textLength="114.5" lengthAdjust="spacingAndGlyphs">NMDS 2</text>
</g>
</svg>
</body></html>
